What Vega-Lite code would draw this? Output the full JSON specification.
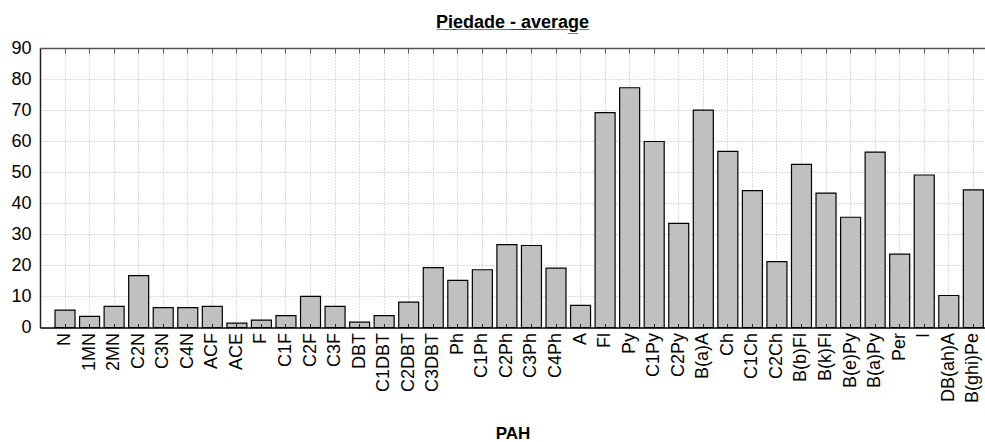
{
  "$schema": "https://vega.github.io/schema/vega-lite/v6.json",
  "width": 945,
  "height": 279.5,
  "autosize": {"type": "none"},
  "padding": {"left": 40, "top": 48, "right": 0, "bottom": 114.5},
  "background": "white",
  "title": {
    "text": "P̲i̲e̲d̲a̲d̲e̲ ̲-̲ ̲a̲v̲e̲r̲a̲g̲e̲",
    "font": "Liberation Sans",
    "fontSize": 18,
    "fontWeight": "bold",
    "color": "black",
    "anchor": "middle",
    "frame": "group",
    "baseline": "alphabetic",
    "offset": -7
  },
  "data": {
    "values": [
      {"PAH": "N", "value": 5.6},
      {"PAH": "1MN", "value": 3.6},
      {"PAH": "2MN", "value": 6.8},
      {"PAH": "C2N", "value": 16.7},
      {"PAH": "C3N", "value": 6.4},
      {"PAH": "C4N", "value": 6.4},
      {"PAH": "ACF", "value": 6.8},
      {"PAH": "ACE", "value": 1.4},
      {"PAH": "F", "value": 2.4},
      {"PAH": "C1F", "value": 3.8},
      {"PAH": "C2F", "value": 10.0},
      {"PAH": "C3F", "value": 6.8},
      {"PAH": "DBT", "value": 1.7},
      {"PAH": "C1DBT", "value": 3.8},
      {"PAH": "C2DBT", "value": 8.2},
      {"PAH": "C3DBT", "value": 19.3},
      {"PAH": "Ph", "value": 15.2},
      {"PAH": "C1Ph", "value": 18.6},
      {"PAH": "C2Ph", "value": 26.7},
      {"PAH": "C3Ph", "value": 26.4},
      {"PAH": "C4Ph", "value": 19.1},
      {"PAH": "A", "value": 7.1},
      {"PAH": "Fl", "value": 69.2},
      {"PAH": "Py", "value": 77.2},
      {"PAH": "C1Py", "value": 59.9},
      {"PAH": "C2Py", "value": 33.5},
      {"PAH": "B(a)A", "value": 70.0},
      {"PAH": "Ch", "value": 56.7},
      {"PAH": "C1Ch", "value": 44.1},
      {"PAH": "C2Ch", "value": 21.2},
      {"PAH": "B(b)Fl", "value": 52.5},
      {"PAH": "B(k)Fl", "value": 43.3},
      {"PAH": "B(e)Py", "value": 35.5},
      {"PAH": "B(a)Py", "value": 56.5},
      {"PAH": "Per", "value": 23.6},
      {"PAH": "I", "value": 49.1},
      {"PAH": "DB(ah)A", "value": 10.3},
      {"PAH": "B(ghi)Pe", "value": 44.3}
    ]
  },
  "layer": [
    {
      "mark": {"type": "bar", "fill": "#c0c0c0", "stroke": "black", "strokeWidth": 1.2},
      "encoding": {
        "x": {
          "field": "PAH",
          "type": "nominal",
          "sort": null,
          "scale": {"paddingInner": 0.185, "paddingOuter": 0.34, "align": 0.9},
          "axis": {
            "orient": "bottom",
            "title": "PAH",
            "titleFont": "Liberation Sans",
            "titleFontSize": 17,
            "titleFontWeight": "bold",
            "titleColor": "black",
            "titlePadding": 23,
            "labelFont": "Liberation Sans",
            "labelFontSize": 18,
            "labelColor": "black",
            "labelAngle": 270,
            "labelPadding": 5,
            "ticks": false,
            "domain": false,
            "grid": true,
            "gridColor": "#bbbbbb",
            "gridDash": [1, 2],
            "gridWidth": 1,
            "zindex": 0
          }
        },
        "y": {
          "field": "value",
          "type": "quantitative",
          "scale": {"domain": [0, 90], "nice": false},
          "axis": {
            "title": null,
            "values": [0, 10, 20, 30, 40, 50, 60, 70, 80, 90],
            "labelFont": "Liberation Sans",
            "labelFontSize": 18,
            "labelColor": "black",
            "labelPadding": 9,
            "ticks": false,
            "domainColor": "#222222",
            "domainWidth": 1.5,
            "grid": true,
            "gridColor": "#bbbbbb",
            "gridDash": [1, 2],
            "gridWidth": 1
          }
        }
      }
    },
    {
      "mark": {"type": "bar", "opacity": 0},
      "encoding": {
        "x": {
          "field": "PAH",
          "type": "nominal",
          "sort": null,
          "axis": {
            "orient": "top",
            "title": null,
            "labels": false,
            "grid": false,
            "ticks": true,
            "tickSize": -5,
            "tickColor": "#555555",
            "domainColor": "#555555",
            "domainWidth": 1.5,
            "zindex": 1
          }
        }
      }
    },
    {
      "mark": {"type": "bar", "opacity": 0},
      "encoding": {
        "x": {
          "field": "PAH",
          "type": "nominal",
          "sort": null,
          "axis": {
            "orient": "bottom",
            "title": null,
            "labels": false,
            "grid": false,
            "ticks": true,
            "tickSize": -4,
            "tickColor": "#222222",
            "domainColor": "black",
            "domainWidth": 1.5,
            "zindex": 1
          }
        }
      }
    }
  ],
  "resolve": {"axis": {"x": "independent"}},
  "config": {"view": {"stroke": null}}
}
